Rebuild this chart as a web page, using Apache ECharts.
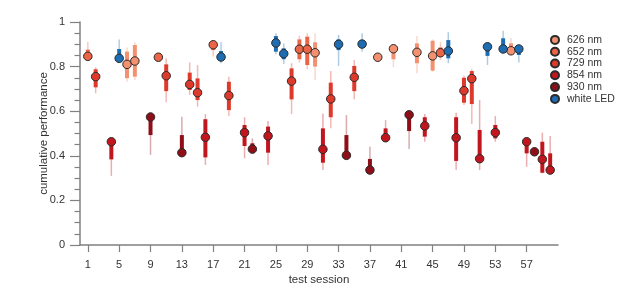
<!DOCTYPE html>
<html>
<head>
<meta charset="utf-8">
<script src="https://cdn.jsdelivr.net/npm/echarts@6/dist/echarts.min.js"></script>
<style>html,body{margin:0;padding:0;background:#fff}#c{width:617px;height:286px}</style>
</head>
<body>
<div id="c"></div>
<script>
const groupNames = ['626 nm', '652 nm', '729 nm', '854 nm', '930 nm', 'white LED'];
const groupColors = ['#f2906f', '#ec6446', '#de3a2c', '#c2161f', '#8e0f18', '#1e6db3'];
const xTicks = [1, 5, 9, 13, 17, 21, 25, 29, 33, 37, 41, 45, 49, 53, 57];

const session = [1, 2, 4, 5, 6, 7, 9, 10, 11, 13, 14, 15, 16, 17, 18, 19, 21, 22, 24, 25, 26, 27, 28, 29, 30, 31, 32, 33, 34, 35, 36, 37, 38, 39, 40, 42, 43, 44, 45, 46, 47, 48, 49, 50, 51, 52, 53, 54, 55, 56, 57, 58, 59, 60];
const group   = [1, 2, 3, 5, 0, 0, 4, 1, 2, 4, 2, 2, 3, 1, 5, 2, 3, 4, 3, 5, 5, 2, 1, 1, 0, 3, 2, 5, 4, 2, 5, 4, 0, 3, 0, 4, 0, 3, 0, 1, 5, 3, 2, 2, 3, 5, 3, 5, 0, 5, 3, 4, 3, 3];
const perf    = [.846, .755, .463, .837, .81, .825, .574, .842, .759, .414, .72, .683, .483, .898, .843, .67, .504, .43, .489, .906, .858, .735, .878, .878, .862, .429, .655, .90, .402, .752, .901, .336, .842, .481, .88, .584, .864, .534, .848, .862, .87, .481, .692, .746, .387, .889, .504, .879, .871, .879, .463, .418, .384, .336];
const boxLo   = [.846, .707, .384, .837, .748, .755, .493, .842, .69, .414, .695, .65, .393, .874, .843, .605, .444, .43, .414, .867, .833, .653, .833, .807, .80, .369, .573, .874, .402, .69, .886, .336, .842, .481, .833, .511, .815, .486, .782, .845, .837, .377, .638, .632, .387, .848, .478, .879, .871, .852, .411, .418, .324, .336];
const boxHi   = [.876, .788, .463, .879, .867, .897, .574, .842, .81, .493, .773, .747, .564, .898, .87, .732, .538, .456, .531, .937, .882, .792, .922, .934, .909, .523, .728, .922, .493, .803, .919, .386, .842, .523, .88, .584, .904, .573, .916, .886, .919, .573, .75, .78, .516, .904, .538, .927, .904, .879, .463, .418, .463, .411];
const ciLo    = [.84, .68, .31, .837, .733, .74, .404, .842, .64, .414, .673, .62, .359, .845, .815, .578, .389, .43, .359, .855, .812, .587, .818, .788, .74, .336, .523, .803, .402, .653, .867, .336, .842, .481, .797, .43, .77, .463, .777, .83, .815, .336, .628, .543, .336, .807, .463, .879, .871, .818, .351, .418, .321, .336];
const ciHi    = [.91, .797, .463, .922, .886, .909, .574, .842, .837, .575, .819, .807, .587, .898, .909, .755, .573, .478, .556, .949, .904, .815, .939, .949, .949, .59, .78, .942, .583, .83, .949, .441, .842, .56, .88, .584, .937, .587, .922, .909, .954, .593, .759, .788, .65, .904, .578, .961, .927, .879, .463, .418, .504, .489];

const series = [];
groupNames.forEach((name, g) => {
  const rows = [];
  session.forEach((s, i) => {
    if (group[i] === g) rows.push([s, perf[i], boxLo[i], boxHi[i], ciLo[i], ciHi[i]]);
  });
  const color = groupColors[g];
  series.push({
    name: name + ' ranges',
    type: 'custom',
    data: rows,
    encode: { x: 0, y: [4, 5] },
    z: 2,
    silent: true,
    renderItem: function (params, api) {
      const x = api.value(0);
      const w1 = api.coord([x, api.value(4)]);
      const w2 = api.coord([x, api.value(5)]);
      const b1 = api.coord([x, api.value(2)]);
      const b2 = api.coord([x, api.value(3)]);
      return {
        type: 'group',
        children: [
          { type: 'line', shape: { x1: w1[0], y1: w1[1], x2: w2[0], y2: w2[1] },
            style: { stroke: color, lineWidth: 1.5, opacity: 0.35 } },
          { type: 'line', shape: { x1: b1[0], y1: b1[1], x2: b2[0], y2: b2[1] },
            style: { stroke: color, lineWidth: 4, opacity: 1 } }
        ]
      };
    }
  });
});
groupNames.forEach((name, g) => {
  const rows = [];
  session.forEach((s, i) => { if (group[i] === g) rows.push([s, perf[i]]); });
  series.push({
    name: name,
    type: 'scatter',
    data: rows,
    symbol: 'circle',
    symbolSize: 8.5,
    z: 5,
    itemStyle: { color: groupColors[g], borderColor: '#2a2a2a', borderWidth: 1, opacity: 1 }
  });
});

const axisGray = '#808080';
const font = 'Liberation Sans, Arial, sans-serif';
const chart = echarts.init(document.getElementById('c'), null, { renderer: 'canvas' });
chart.setOption({
  animation: false,
  backgroundColor: '#fff',
  textStyle: { fontFamily: font },
  grid: { left: 80, right: 59, top: 22, bottom: 41, containLabel: false, outerBoundsMode: 'none' },
  legend: {
    data: groupNames,
    orient: 'vertical',
    left: 545,
    top: 29,
    itemWidth: 14,
    itemHeight: 8,
    itemGap: 0,
    icon: 'circle',
    textStyle: { fontSize: 10.5, color: '#333', fontFamily: font, lineHeight: 11.8 }
  },
  xAxis: {
    type: 'value',
    min: 0,
    max: 61,
    name: 'test session',
    nameLocation: 'middle',
    nameGap: 29,
    nameMoveOverlap: false,
    nameTextStyle: { fontSize: 11.5, color: '#333', fontFamily: font },
    splitLine: { show: false },
    axisLine: { show: true, onZero: false, lineStyle: { color: axisGray, width: 1.5 } },
    axisTick: { show: true, customValues: xTicks, length: 7, lineStyle: { color: axisGray, width: 1.2 } },
    axisLabel: { customValues: xTicks, margin: 14, fontSize: 11, color: '#333', fontFamily: font }
  },
  yAxis: {
    type: 'value',
    min: 0,
    max: 1,
    interval: 0.2,
    name: 'cumulative performance',
    nameLocation: 'middle',
    nameGap: 30,
    nameMoveOverlap: false,
    nameTextStyle: { fontSize: 11.5, color: '#333', fontFamily: font },
    splitLine: { show: false },
    axisLine: { show: true, lineStyle: { color: axisGray, width: 1.5 } },
    axisTick: { show: true, length: 10, lineStyle: { color: axisGray, width: 1.2 } },
    minorTick: { show: true, splitNumber: 4, length: 5.5, lineStyle: { color: axisGray, width: 1.2 } },
    axisLabel: { margin: 15, fontSize: 11, color: '#333', fontFamily: font,
      formatter: v => String(Math.round(v * 10) / 10) }
  },
  series: series
});
</script>
</body>
</html>
